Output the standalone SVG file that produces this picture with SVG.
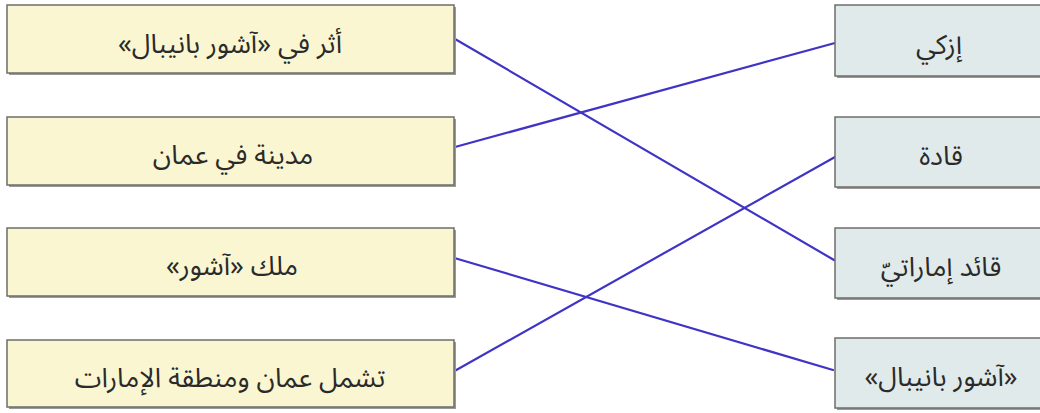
<svg xmlns="http://www.w3.org/2000/svg" width="1040" height="413" viewBox="0 0 1040 413">
<defs>
<style>
.bg{fill:#ffffff}
.l{fill:#fbf6d2;stroke:#6e6e6a;stroke-width:1.5}
.r{fill:#e1eaea;stroke:#6e6e6a;stroke-width:1.5}
.sh{fill:#9a9a96}
.t{font-family:"Noto Sans Arabic","Noto Sans","DejaVu Sans",sans-serif;font-size:27px;fill:#2a2a2a;text-anchor:middle;direction:rtl}
.c{stroke:#3f34c6;stroke-width:2.2;fill:none;stroke-linecap:round}
</style>
</defs>
<rect class="bg" x="0" y="0" width="1040" height="413"/>
<g id="connectors">
<line class="c" x1="455" y1="39" x2="834" y2="260"/>
<line class="c" x1="455" y1="147" x2="835" y2="43"/>
<line class="c" x1="451" y1="257" x2="833" y2="370"/>
<line class="c" x1="451" y1="373" x2="835" y2="157"/>
</g>
<g id="l1"><rect class="sh" x="9" y="7" width="447" height="68"/><rect class="l" x="7" y="5" width="447" height="68"/><text class="t" x="230" y="53">أثر في «آشور بانيبال»</text></g>
<g id="l2"><rect class="sh" x="9" y="119" width="447" height="68"/><rect class="l" x="7" y="117" width="447" height="68"/><text class="t" x="233" y="164">مدينة في عمان</text></g>
<g id="l3"><rect class="sh" x="9" y="230" width="447" height="68"/><rect class="l" x="7" y="228" width="447" height="68"/><text class="t" x="232" y="275">ملك «آشور»</text></g>
<g id="l4"><rect class="sh" x="9" y="342" width="447" height="67"/><rect class="l" x="7" y="340" width="447" height="67"/><text class="t" x="230" y="387">تشمل عمان ومنطقة الإمارات</text></g>
<g id="r1"><rect class="sh" x="837" y="7" width="210" height="71"/><rect class="r" x="835" y="5" width="210" height="71"/><text class="t" x="939" y="54">إزكي</text></g>
<g id="r2"><rect class="sh" x="837" y="119" width="210" height="70"/><rect class="r" x="835" y="117" width="210" height="70"/><text class="t" x="941" y="165">قادة</text></g>
<g id="r3"><rect class="sh" x="837" y="230" width="210" height="70"/><rect class="r" x="835" y="228" width="210" height="70"/><text class="t" x="941" y="276">قائد إماراتيّ</text></g>
<g id="r4"><rect class="sh" x="837" y="340" width="210" height="70"/><rect class="r" x="835" y="338" width="210" height="70"/><text class="t" x="941" y="386">«آشور بانيبال»</text></g>
</svg>
